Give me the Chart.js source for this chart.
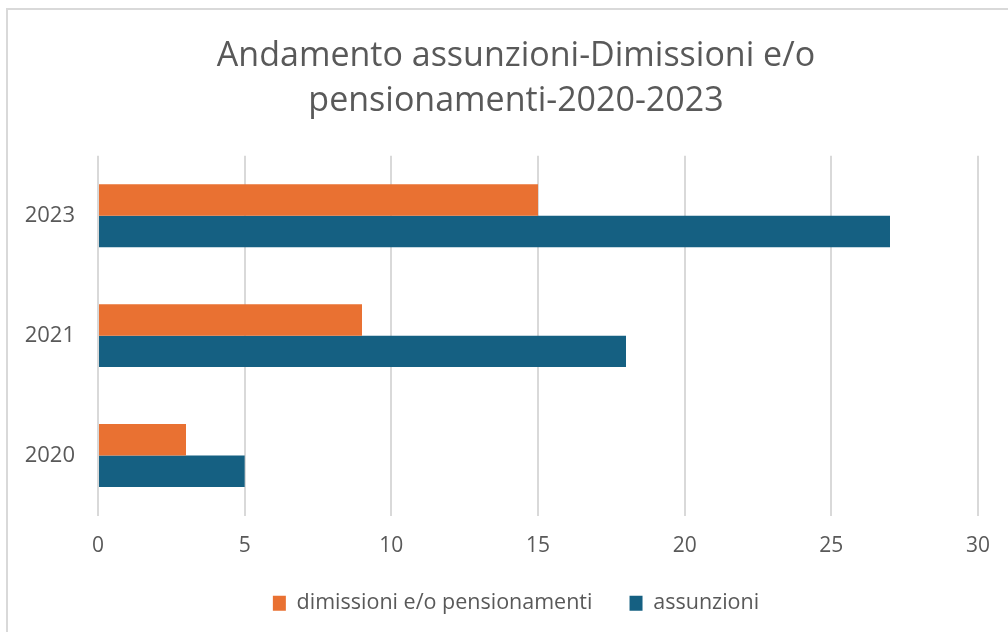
<!DOCTYPE html>
<html>
<head>
<meta charset="utf-8">
<script src="https://cdn.jsdelivr.net/npm/chart.js@4.4.1/dist/chart.umd.min.js"></script>
<style>
    html, body { margin: 0; padding: 0; background: #ffffff; overflow: hidden; }
    #wrap { position: relative; width: 1008px; height: 632px; overflow: hidden; }
    #frame { position: absolute; left: 6px; top: 8px; width: 1100px; height: 700px; border: 2px solid #d9d9d9; }
    #chart { position: absolute; left: 0; top: 0; }
</style>
</head>
<body>
<div id="wrap">
    <div id="frame"></div>
    <!-- original chart box runs a little past the right edge of the crop -->
    <canvas id="chart" width="1032" height="632"></canvas>
</div>
<script>
// Chart values
const years = ['2023', '2021', '2020'];
const dimissioni = [15, 9, 3];
const assunzioni = [27, 18, 5];
const seriesNames = ['dimissioni e/o pensionamenti', 'assunzioni'];
const chartTitle = ['Andamento assunzioni-Dimissioni e/o', 'pensionamenti-2020-2023'];

const textColor = '#595959';
const fontFamily = "'Open Sans', 'Liberation Sans', sans-serif";

const ctx = document.getElementById('chart');
new Chart(ctx, {
    type: 'bar',
    data: {
        labels: years,
        datasets: [{
            label: seriesNames[0],
            data: dimissioni,
            backgroundColor: '#E97132',
            categoryPercentage: 0.525,
            barPercentage: 1.0
        }, {
            label: seriesNames[1],
            data: assunzioni,
            backgroundColor: '#156082',
            categoryPercentage: 0.525,
            barPercentage: 1.0
        }]
    },
    options: {
        indexAxis: 'y',
        responsive: false,
        animation: false,
        layout: {
            padding: { top: 0, right: 0, bottom: 8, left: 0 }
        },
        plugins: {
            title: {
                display: true,
                text: chartTitle,
                color: textColor,
                font: { family: fontFamily, size: 34, weight: 'normal', lineHeight: 1.32 },
                padding: { top: 34, bottom: 32 }
            },
            legend: {
                position: 'bottom',
                labels: {
                    color: textColor,
                    font: { family: fontFamily, size: 21.5 },
                    boxWidth: 13,
                    boxHeight: 15,
                    padding: 12,
                    generateLabels: function (chart) {
                        const items = Chart.defaults.plugins.legend.labels.generateLabels(chart);
                        // wider gap between the two legend entries
                        items.forEach(function (item, i) {
                            if (i < items.length - 1) item.text = item.text + '\u2003\u2009';
                        });
                        return items;
                    }
                }
            },
            tooltip: { enabled: false }
        },
        scales: {
            x: {
                min: 0,
                max: 30,
                ticks: {
                    stepSize: 5,
                    color: textColor,
                    font: { family: fontFamily, size: 21 },
                    padding: 18
                },
                grid: { color: '#d9d9d9', lineWidth: 2, drawTicks: false },
                border: { display: false },
                afterFit: function (scale) { scale.height = 65; }
            },
            y: {
                ticks: {
                    color: textColor,
                    font: { family: fontFamily, size: 22 },
                    padding: 15
                },
                grid: { display: false },
                border: { display: false },
                afterFit: function (scale) { scale.width = 98; }
            },
            // empty spacer on the right so the plot ends at 30 while title/legend stay centred
            yRight: {
                type: 'linear',
                position: 'right',
                ticks: { display: false },
                grid: { display: false },
                border: { display: false },
                afterFit: function (scale) { scale.width = 54; }
            }
        }
    }
});
</script>
</body>
</html>
